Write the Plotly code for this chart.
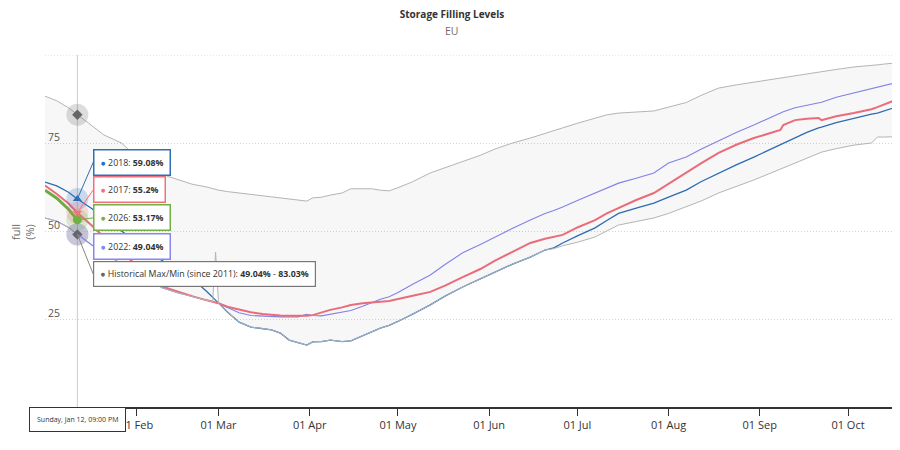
import datetime as dt
import plotly.graph_objects as go

# ---------------- data ----------------
base = dt.date(2025, 1, 1)
day_offsets = [0, 4, 8, 11, 16, 20, 26, 30, 35, 40, 45, 50, 55, 57, 58, 59, 62, 66, 70, 74,
               77, 80, 83, 86, 89, 91, 94, 97, 101, 104, 108, 111, 114, 117, 120, 125, 131,
               136, 142, 148, 153, 159, 165, 170, 173, 176, 181, 187, 191, 195, 201, 207,
               212, 218, 223, 229, 235, 241, 246, 250, 251, 255, 259, 263, 264, 269, 275,
               281, 283, 285, 290]
dates = [(base + dt.timedelta(days=d)).isoformat() for d in day_offsets]

y2018 = [63.9, 62.8, 61.0, 59.08, 56.3, 53.5, 50.0, 47.5, 44.5, 41.5, 39.0, 36.5, 32.8, 31.0,
         30.2, 29.5, 27.0, 24.1, 22.7, 22.3, 21.9, 21.0, 19.0, 18.3, 17.6, 18.5, 18.6, 19.0,
         18.6, 18.8, 20.2, 21.2, 22.4, 23.2, 24.3, 26.4, 29.0, 31.5, 34.1, 36.4, 38.4, 40.6,
         42.6, 44.6, 45.2, 46.6, 48.6, 50.9, 53.0, 55.0, 56.5, 57.9, 59.6, 61.6, 64.0, 66.5,
         68.8, 71.0, 73.0, 74.6, 74.9, 76.6, 78.0, 79.3, 79.5, 80.8, 82.1, 83.2, 83.5, 84.0, 85.4]
y2017 = [62.9, 60.5, 57.8, 55.2, 51.5, 48.3, 44.0, 41.0, 37.5, 34.2, 32.8, 31.5, 30.3, 29.9,
         29.7, 29.5, 28.5, 27.6, 26.9, 26.4, 26.1, 26.0, 25.9, 25.8, 25.9, 26.1, 26.8, 27.6,
         28.3, 29.0, 29.5, 29.6, 29.9, 30.1, 30.6, 31.6, 32.7, 34.5, 36.9, 39.2, 41.6, 44.2,
         46.6, 47.8, 48.3, 48.9, 51.0, 53.1, 55.0, 56.6, 58.8, 60.8, 63.5, 66.5, 69.2, 72.2,
         74.5, 76.4, 77.6, 78.7, 80.1, 81.5, 81.9, 82.1, 81.5, 82.6, 83.5, 84.6, 85.2, 85.8, 87.5]
y2022 = [53.7, 52.8, 51.0, 49.04, 46.0, 43.8, 40.5, 38.5, 36.0, 33.8, 32.5, 31.3, 30.3, 29.9,
         29.7, 29.4, 28.3, 26.8, 26.0, 25.8, 25.7, 25.6, 25.6, 25.6, 26.3, 26.0, 25.9, 26.3,
         26.8, 27.4, 28.6, 29.6, 30.6, 31.3, 32.5, 34.9, 37.5, 40.5, 43.8, 46.2, 48.3, 50.8,
         53.1, 55.0, 55.8, 56.8, 58.7, 60.8, 62.4, 63.6, 65.0, 66.5, 69.3, 71.0, 73.2, 75.6,
         78.0, 80.1, 82.0, 83.6, 83.9, 85.0, 85.7, 86.4, 86.6, 88.0, 89.2, 90.6, 91.0, 91.4, 92.3]
y2026 = [61.6, 59.3, 56.2, 53.17]
hist_max = [88.3, 87.0, 85.0, 83.03, 79.8, 77.3, 75.0, 72.0, 68.0, 66.0, 64.7, 63.3, 62.5, 62.0,
            61.8, 61.6, 61.2, 60.8, 60.3, 60.0, 59.8, 59.5, 59.2, 58.8, 58.5, 59.4, 59.6, 60.2,
            60.8, 62.0, 62.1, 62.0, 61.6, 61.4, 62.3, 64.0, 66.5, 68.0, 69.6, 71.5, 73.3, 75.0,
            76.4, 77.8, 78.6, 79.3, 80.6, 82.1, 83.0, 83.5, 83.8, 84.1, 85.2, 86.5, 88.5, 90.6,
            91.5, 92.3, 92.9, 93.4, 93.5, 94.0, 94.6, 95.2, 95.3, 95.9, 96.6, 96.9, 97.2, 97.4, 97.8]
hist_min = [53.7, 52.8, 51.0, 49.04, 46.0, 43.8, 40.5, 38.5, 36.0, 33.8, 32.5, 31.3, 30.3, 29.9,
            44.0, 29.4, 27.0, 24.1, 22.7, 22.3, 21.9, 21.0, 19.0, 18.3, 17.6, 18.5, 18.6, 19.0,
            18.6, 18.8, 20.2, 21.2, 22.4, 23.2, 24.3, 26.4, 29.0, 31.5, 34.1, 36.4, 38.4, 40.6,
            42.6, 44.6, 45.0, 45.8, 46.8, 48.3, 50.0, 51.7, 52.7, 53.7, 55.0, 56.8, 58.5, 60.8,
            62.6, 64.5, 66.2, 67.6, 67.9, 69.3, 70.8, 72.2, 72.4, 73.4, 74.4, 75.0, 76.7, 76.7, 76.8]

hover_idx = 3  # Jan 12
hover_label = "Sunday, Jan 12, 09:00 PM"
y_ticks = [0, 25, 50, 75, 100]
y_ticktext = ["0", "25", "50", "75", ""]

C2018 = "#2f6fba"
C2017 = "#f2707e"
C2022 = "#8787ee"
C2026 = "#72b043"
CBAND = "#b4b4b4"
CHIST = "#666666"
GRID = "#d8d4c6"
FONT = "Open Sans"
TIPSIZE = 8.8

fig = go.Figure()

fig.add_trace(go.Scatter(x=dates, y=y2022, mode="lines", line=dict(color=C2022, width=1.1)))
fig.add_trace(go.Scatter(x=dates, y=y2018, mode="lines", line=dict(color=C2018, width=1.3)))
fig.add_trace(go.Scatter(x=dates, y=y2017, mode="lines", line=dict(color=C2017, width=2)))
fig.add_trace(go.Scatter(x=dates[:len(y2026)], y=y2026, mode="lines",
                         line=dict(color=C2026, width=3)))
# historical band (drawn last, semi-transparent)
fig.add_trace(go.Scatter(x=dates, y=hist_max, mode="lines", line=dict(color=CBAND, width=1)))
fig.add_trace(go.Scatter(x=dates, y=hist_min, mode="lines", line=dict(color=CBAND, width=1),
                         fill="tonexty", fillcolor="rgba(0,0,0,0.03)"))

# hover markers with halos
hx = dates[hover_idx]
pts = [
    (y2018[hover_idx], C2018, "triangle-up", 8),
    (y2017[hover_idx], C2017, "triangle-down", 8),
    (y2026[hover_idx], C2026, "circle", 9),
    (y2022[hover_idx], C2022, "circle", 7),
    (hist_max[hover_idx], "#666666", "diamond", 8),
    (hist_min[hover_idx], "#666666", "diamond", 8),
]
for yv, col, sym, sz in pts:
    fig.add_trace(go.Scatter(x=[hx], y=[yv], mode="markers",
                             marker=dict(size=22, color=col, opacity=0.22, line=dict(width=0))))
for yv, col, sym, sz in pts:
    fig.add_trace(go.Scatter(x=[hx], y=[yv], mode="markers",
                             marker=dict(size=sz, color=col, symbol=sym, line=dict(width=0))))

# crosshair (behind the series) and top grid line
fig.add_shape(type="line", xref="x", yref="paper", x0=hx, x1=hx, y0=0, y1=1,
              line=dict(color="#cccccc", width=1), layer="below")
fig.add_shape(type="line", xref="paper", yref="y", x0=0, x1=1, y0=y_ticks[-1], y1=y_ticks[-1],
              line=dict(color=GRID, width=1, dash="1px,2px"), layer="below")

def fmt(v):
    return f"{v:g}%"

tips = [
    ("2018", y2018[hover_idx], C2018, -37),
    ("2017", y2017[hover_idx], C2017, -23),
    ("2026", y2026[hover_idx], C2026, -2),
    ("2022", y2022[hover_idx], C2022, 12),
]
for name, v, col, ay in tips:
    fig.add_annotation(
        x=hx, y=v, xref="x", yref="y", axref="pixel", ayref="pixel", ax=16, ay=ay,
        xanchor="left", yanchor="middle", showarrow=True, arrowhead=0, arrowwidth=1,
        arrowcolor=col, standoff=0,
        text=f"<span style='color:{col}'>●</span> {name}: <b>{fmt(v)}</b>",
        font=dict(family=FONT, size=TIPSIZE, color="#333333"),
        bgcolor="white", bordercolor=col, borderwidth=1.5, borderpad=6, align="left")

fig.add_annotation(
    x=hx, y=hist_min[hover_idx], xref="x", yref="y", axref="pixel", ayref="pixel", ax=16, ay=40,
    xanchor="left", yanchor="middle", showarrow=True, arrowhead=0, arrowwidth=1,
    arrowcolor="#888888", standoff=0,
    text=(f"<span style='color:{CHIST}'>●</span> Historical Max/Min (since 2011): "
          f"<b>{fmt(hist_min[hover_idx])}</b> - <b>{fmt(hist_max[hover_idx])}</b>"),
    font=dict(family=FONT, size=TIPSIZE, color="#333333"),
    bgcolor="white", bordercolor="#777777", borderwidth=1.2, borderpad=6, align="left")

fig.add_annotation(
    x=hx, y=0, xref="x", yref="y", yshift=-12, showarrow=False, xanchor="center",
    yanchor="middle", text=hover_label, font=dict(family=FONT, size=7, color="#333333"),
    bgcolor="white", bordercolor="#333333", borderwidth=1, borderpad=7)

# subtitle / y title
fig.add_annotation(x=(452 - 45) / 853, y=1, xref="paper", yref="paper", yshift=24.5,
                   showarrow=False, text="EU", font=dict(family=FONT, size=10.5, color="#7a6868"),
                   xanchor="center", yanchor="middle")
fig.add_annotation(x=(22 - 45) / 853, y=(407 - 232) / 352, xref="paper", yref="paper",
                   showarrow=False, text="full<br>(%)", textangle=-90,
                   xanchor="center", yanchor="middle",
                   font=dict(family=FONT, size=11, color="#666666"))

# page body has an 8px margin: size the figure so the plot lands where the reference has it
fig.update_layout(
    width=892, height=442,
    margin=dict(l=37, r=2, t=47, b=43),
    paper_bgcolor="white", plot_bgcolor="white",
    showlegend=False, hovermode=False,
    font=dict(family=FONT, size=11, color="#333333"),
    title=dict(text="<b>Storage Filling Levels</b>", xref="container", x=(452 - 8) / 892,
               xanchor="center", yref="container", y=1 - 6 / 442, yanchor="middle",
               font=dict(family=FONT, size=10, color="#333333")),
    xaxis=dict(type="date", range=[base.isoformat(), (base + dt.timedelta(days=290)).isoformat()],
               tickformat="%d %b", dtick="M1", tick0=base.isoformat(),
               showgrid=False, zeroline=False, showline=True, linecolor="#333333", linewidth=1.5,
               ticks="outside", ticklen=7, tickcolor="#333333", tickwidth=1,
               tickfont=dict(family=FONT, size=11, color="#333333")),
    yaxis=dict(range=[0, 100], tickvals=y_ticks, ticktext=y_ticktext,
               showgrid=True, gridcolor=GRID, griddash="1px,2px", gridwidth=1,
               zeroline=False, showline=False, ticks="",
               ticklabelposition="inside", ticklabelstandoff=0, ticklabelshift=-6,
               tickfont=dict(family=FONT, size=10.5, color="#555555")),
)

fig.write_html("out.html")
